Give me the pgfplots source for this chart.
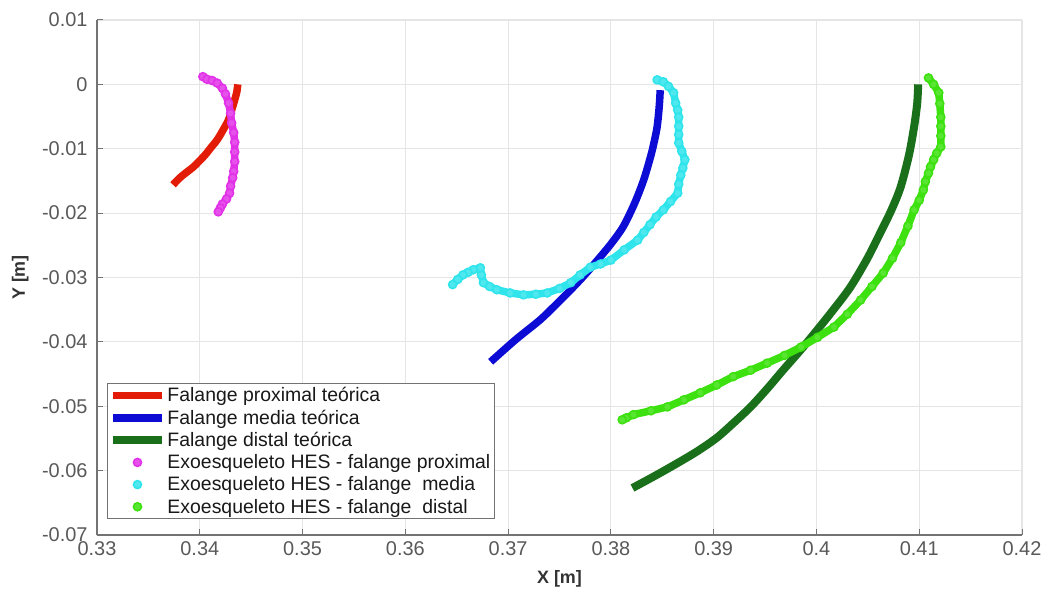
\documentclass[border=0pt]{standalone}
\usepackage{fontspec}
\setmainfont{Liberation Sans}
\usepackage{pgfplots}
\usepackage{pgfplotstable}
\pgfplotsset{compat=1.18}
\definecolor{cred}{RGB}{226,28,6}
\definecolor{cblue}{RGB}{12,12,212}
\definecolor{cdgreen}{RGB}{26,112,26}
\definecolor{cmag}{RGB}{225,50,232}
\definecolor{ccyan}{RGB}{48,228,236}
\definecolor{clgreen}{RGB}{60,225,15}

\pgfplotstableread{
x y
0.3403 0.0012
0.3407 0.0008
0.3412 0.0006
0.3417 0.0002
0.3422 -0.0006
0.3425 -0.0015
0.3428 -0.0029
0.3430 -0.0045
0.3431 -0.0060
0.3433 -0.0075
0.3434 -0.0090
0.3434 -0.0105
0.3434 -0.0120
0.3433 -0.0135
0.3432 -0.0145
0.3430 -0.0158
0.3429 -0.0169
0.3426 -0.0178
0.3422 -0.0186
0.3420 -0.0192
0.3418 -0.0198
}\magdata

\pgfplotstableread{
x y
0.3845 0.0007
0.3851 0.0004
0.3856 -0.0003
0.3861 -0.0013
0.3863 -0.0029
0.3865 -0.0040
0.3866 -0.0051
0.3866 -0.0065
0.3866 -0.0078
0.3866 -0.0091
0.3869 -0.0104
0.3872 -0.0117
0.3870 -0.0130
0.3868 -0.0141
0.3866 -0.0155
0.3865 -0.0169
0.3858 -0.0182
0.3851 -0.0195
0.3844 -0.0206
0.3838 -0.0218
0.3832 -0.0230
0.3826 -0.0242
0.3813 -0.0257
0.3800 -0.0273
0.3790 -0.0279
0.3780 -0.0284
0.3770 -0.0296
0.3761 -0.0308
0.3750 -0.0317
0.3738 -0.0324
0.3727 -0.0326
0.3715 -0.0327
0.3702 -0.0324
0.3689 -0.0319
0.3682 -0.0314
0.3676 -0.0308
0.3674 -0.0296
0.3673 -0.0285
0.3666 -0.0288
0.3661 -0.0292
0.3656 -0.0296
0.3651 -0.0303
0.3646 -0.0311
}\cyandata

\pgfplotstableread{
x y
0.4109 0.0010
0.4114 0.0000
0.4119 -0.0013
0.4120 -0.0030
0.4121 -0.0051
0.4121 -0.0065
0.4121 -0.0080
0.4121 -0.0097
0.4117 -0.0107
0.4114 -0.0117
0.4111 -0.0128
0.4109 -0.0138
0.4106 -0.0151
0.4104 -0.0164
0.4100 -0.0180
0.4095 -0.0195
0.4089 -0.0220
0.4082 -0.0246
0.4074 -0.0270
0.4065 -0.0293
0.4054 -0.0314
0.4043 -0.0335
0.4030 -0.0357
0.4017 -0.0377
0.4001 -0.0393
0.3985 -0.0408
0.3969 -0.0421
0.3952 -0.0433
0.3936 -0.0444
0.3919 -0.0454
0.3903 -0.0467
0.3887 -0.0479
0.3871 -0.0490
0.3855 -0.0501
0.3839 -0.0507
0.3822 -0.0513
0.3815 -0.0518
0.3811 -0.0521
}\lgreendata

\begin{document}
\begin{tikzpicture}
\begin{axis}[
  scale only axis, width=925bp, height=515bp,
  xmin=0.33, xmax=0.42, ymin=-0.07, ymax=0.01,
  xtick={0.33,0.34,0.35,0.36,0.37,0.38,0.39,0.40,0.41,0.42},
  ytick={-0.07,-0.06,-0.05,-0.04,-0.03,-0.02,-0.01,0,0.01},
  scaled ticks=false,
  axis x line*=bottom, axis y line*=left,
  x axis line style={-}, y axis line style={-},
  axis line style={draw=black!55, line width=1.2bp},
  tick align=inside, major tick length=6bp,
  tick style={draw=black!55, line width=1bp},
  grid=major, grid style={draw=black!10, line width=1.2bp},
  /pgf/number format/assume math mode=true,
  /pgf/number format/fixed, /pgf/number format/precision=2,
  tick label style={font=\fontsize{20}{23}\selectfont, text=black!65},
  xticklabel style={yshift=-3bp},
  yticklabel style={xshift=-6bp},
  xlabel={\textbf{X [m]}}, ylabel={\textbf{Y [m]}},
  label style={font=\fontsize{18}{21}\selectfont, text=black!80},
  xlabel style={at={(axis description cs:0.5,-0.085)}, anchor=center},
  ylabel style={at={(axis description cs:-0.083,0.5)}, anchor=center},
  legend style={at={(0.0108,0.031)}, anchor=south west, draw=black!55, line width=1bp,
    font=\fontsize{19.5}{22}\selectfont, text=black!90, row sep=2.6bp, inner sep=2bp,
    legend cell align=left},
  legend image code/.code={\draw[mark repeat=2,mark phase=2,#1] plot coordinates {(0bp,0bp) (24bp,0bp) (48bp,0bp)};},
]
\addplot[cred, line width=7.5bp, smooth, tension=0.5] coordinates {
(0.3437,0.0000) (0.3436,-0.0012) (0.3434,-0.0024) (0.3431,-0.0040) (0.3428,-0.0055)
(0.3423,-0.0070) (0.3417,-0.0086) (0.3411,-0.0098) (0.3405,-0.0110) (0.3399,-0.0120)
(0.3394,-0.0128) (0.3386,-0.0138) (0.3380,-0.0146) (0.3374,-0.0156)};
\addlegendentry{Falange proximal teórica}
\addplot[cblue, line width=7.5bp, smooth, tension=0.5] coordinates {
(0.3848,-0.0009) (0.3847,-0.0035) (0.3845,-0.0066) (0.3842,-0.0090) (0.3839,-0.0110)
(0.3832,-0.0148) (0.3823,-0.0185) (0.3812,-0.0221) (0.3800,-0.0248) (0.3787,-0.0273)
(0.3774,-0.0297) (0.3761,-0.0319) (0.3746,-0.0343) (0.3731,-0.0366) (0.3707,-0.0397)
(0.3683,-0.0431)};
\addlegendentry{Falange media teórica}
\addplot[cdgreen, line width=8bp, smooth, tension=0.5] coordinates {
(0.4099,0.0000) (0.4098,-0.0030) (0.4095,-0.0066) (0.4090,-0.0110) (0.4082,-0.0159)
(0.4073,-0.0195) (0.4062,-0.0231) (0.4049,-0.0272) (0.4033,-0.0315) (0.4017,-0.0349)
(0.4001,-0.0381) (0.3985,-0.0412) (0.3968,-0.0443) (0.3952,-0.0473) (0.3936,-0.0501)
(0.3920,-0.0525) (0.3903,-0.0549) (0.3884,-0.0570) (0.3864,-0.0589) (0.3843,-0.0608)
(0.3821,-0.0627)};
\addlegendentry{Falange distal teórica}

\addplot[forget plot, cmag, line width=7.5bp, line join=round, line cap=round] table[x=x,y=y] {\magdata};
\addplot[forget plot, ccyan, line width=7.5bp, line join=round, line cap=round] table[x=x,y=y] {\cyandata};
\addplot[forget plot, clgreen, line width=7.5bp, line join=round, line cap=round] table[x=x,y=y] {\lgreendata};

\addplot[only marks, mark=*, mark size=4bp, draw=cmag, fill=cmag!85!white, line width=1.6bp] table[x=x,y=y] {\magdata};
\addlegendentry{Exoesqueleto HES - falange proximal}
\addplot[only marks, mark=*, mark size=4bp, draw=ccyan, fill=ccyan!85!white, line width=1.6bp] table[x=x,y=y] {\cyandata};
\addlegendentry{Exoesqueleto HES - falange~ media}
\addplot[only marks, mark=*, mark size=4bp, draw=clgreen, fill=clgreen!85!white, line width=1.6bp] table[x=x,y=y] {\lgreendata};
\addlegendentry{Exoesqueleto HES - falange~ distal}
\end{axis}
\pgfresetboundingbox
\path ([xshift=-97bp,yshift=-60bp]current axis.south west) rectangle ([xshift=24bp,yshift=20bp]current axis.north east);
\end{tikzpicture}
\end{document}
